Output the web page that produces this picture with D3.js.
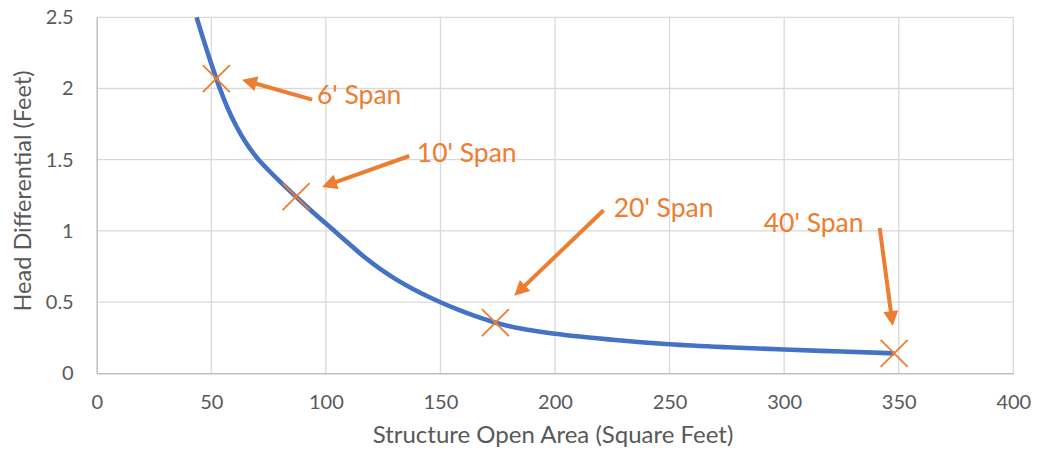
<!DOCTYPE html>
<html>
<head>
<meta charset="utf-8">
<script src="https://cdn.jsdelivr.net/npm/d3@7/dist/d3.min.js"></script>
<style>
  html, body { margin: 0; padding: 0; background: #ffffff; }
  svg { display: block; }
  text { font-family: Lato, "Open Sans", sans-serif; }
</style>
</head>
<body>
<svg id="chart" width="1038" height="453"></svg>
<script>
// Head differential curve: structure open area (sq ft) vs head (ft)
const curveArea = [43.6, 46, 49, 52.2, 53.5, 57, 61, 65, 70, 75, 80, 87, 95, 104, 110, 116.4, 124, 131, 138, 145.5, 150, 158, 165, 174, 185, 200, 225, 250, 275, 300, 325, 348];
const curveHead = [2.50, 2.373, 2.222, 2.07, 2.01, 1.868, 1.733, 1.622, 1.512, 1.426, 1.346, 1.24, 1.122, 0.996, 0.911, 0.822, 0.73, 0.656, 0.592, 0.532, 0.499, 0.445, 0.403, 0.356, 0.314, 0.278, 0.236, 0.204, 0.183, 0.167, 0.153, 0.14];

// Bridge spans marked on the curve
const spanLabels = ["6' Span", "10' Span", "20' Span", "40' Span"];
const spanArea = [52.2, 87, 174, 348];
const spanHead = [2.07, 1.24, 0.356, 0.14];

// Callout arrows (tail -> tip) and label anchors, in data units
const arrowTail = [[94.0, 1.922], [136.4, 1.526], [221.2, 1.145], [341.7, 1.021]];
const arrowTip = [[63.4, 2.062], [98.3, 1.309], [182.2, 0.544], [347.4, 0.332]];
const labelPos = [[96.1, 1.889], [139.7, 1.482], [225.6, 1.098], [291.1, 0.993]];

// Axis ticks
const xTicks = [0, 50, 100, 150, 200, 250, 300, 350, 400];
const yTicks = [0, 0.5, 1, 1.5, 2, 2.5];
const xTitle = "Structure Open Area (Square Feet)";
const yTitle = "Head Differential (Feet)";

const blue = "#4472C4";
const orange = "#ED7D31";
const grid = "#D9D9D9";
const axisText = "#595959";

const svg = d3.select("#chart");
const margin = { left: 96.7, top: 17.3, right: 1038 - 1013.3, bottom: 453 - 373.3 };
const W = 1038 - margin.left - margin.right;
const H = 453 - margin.top - margin.bottom;

const x = d3.scaleLinear().domain([0, 400]).range([0, W]);
const y = d3.scaleLinear().domain([0, 2.5]).range([H, 0]);

const g = svg.append("g").attr("transform", `translate(${margin.left},${margin.top})`);

// Gridlines
g.append("g").selectAll("line").data(xTicks.filter(d => d > 0)).join("line")
  .attr("x1", d => x(d)).attr("x2", d => x(d)).attr("y1", 0).attr("y2", H)
  .attr("stroke", grid).attr("stroke-width", 1.3);
g.append("g").selectAll("line").data(yTicks.filter(d => d > 0)).join("line")
  .attr("x1", 0).attr("x2", W).attr("y1", d => y(d)).attr("y2", d => y(d))
  .attr("stroke", grid).attr("stroke-width", 1.3);

// Axes
const xAxis = d3.axisBottom(x).tickValues(xTicks).tickSize(0).tickPadding(22).tickFormat(d3.format("d"));
const yAxis = d3.axisLeft(y).tickValues(yTicks).tickSize(0).tickPadding(23).tickFormat(d => String(d));

const gx = g.append("g").attr("transform", `translate(0,${H})`).call(xAxis);
const gy = g.append("g").call(yAxis);
[gx, gy].forEach(a => {
  a.select(".domain").attr("stroke", "#BFBFBF").attr("stroke-width", 1.5);
  a.selectAll("text").attr("fill", axisText).style("font-size", "20px").style("font-family", "Lato, sans-serif");
});

// Axis titles
svg.append("text")
  .attr("x", margin.left + x(200) - 2).attr("y", 443)
  .attr("text-anchor", "middle").attr("fill", axisText)
  .style("font-size", "24px").text(xTitle);
svg.append("text")
  .attr("transform", `translate(31,191) rotate(-90)`)
  .attr("text-anchor", "middle").attr("fill", axisText)
  .style("font-size", "23.5px").text(yTitle);

// Curve
const pts = curveArea.map((a, i) => [a, curveHead[i]]);
const line = d3.line().x(d => x(d[0])).y(d => y(d[1])).curve(d3.curveMonotoneX);
g.append("path").datum(pts).attr("d", line)
  .attr("fill", "none").attr("stroke", blue).attr("stroke-width", 4.6).attr("stroke-linecap", "butt");

// Span markers (X)
const mk = 13.5;
const markers = g.append("g").selectAll("g").data(spanArea.map((a, i) => [a, spanHead[i]])).join("g")
  .attr("transform", d => `translate(${x(d[0])},${y(d[1])})`);
markers.append("path")
  .attr("d", `M${-mk},${-mk}L${mk},${mk}M${-mk},${mk}L${mk},${-mk}`)
  .attr("stroke", orange).attr("stroke-width", 1.8).attr("fill", "none");

// Callout arrows
const headLen = 15, headHalf = 7.5;
spanLabels.forEach((lbl, i) => {
  const x0 = x(arrowTail[i][0]), y0 = y(arrowTail[i][1]);
  const x1 = x(arrowTip[i][0]), y1 = y(arrowTip[i][1]);
  const ang = Math.atan2(y1 - y0, x1 - x0);
  const bx = x1 - headLen * Math.cos(ang), by = y1 - headLen * Math.sin(ang);
  g.append("line")
    .attr("x1", x0).attr("y1", y0).attr("x2", bx + 2 * Math.cos(ang)).attr("y2", by + 2 * Math.sin(ang))
    .attr("stroke", orange).attr("stroke-width", 4);
  const px = -Math.sin(ang), py = Math.cos(ang);
  g.append("path")
    .attr("d", `M${x1},${y1}L${bx + headHalf * px},${by + headHalf * py}L${bx - headHalf * px},${by - headHalf * py}Z`)
    .attr("fill", orange);
  g.append("text")
    .attr("x", x(labelPos[i][0])).attr("y", y(labelPos[i][1]))
    .attr("fill", orange).style("font-size", "26.5px").text(lbl);
});
</script>
</body>
</html>
